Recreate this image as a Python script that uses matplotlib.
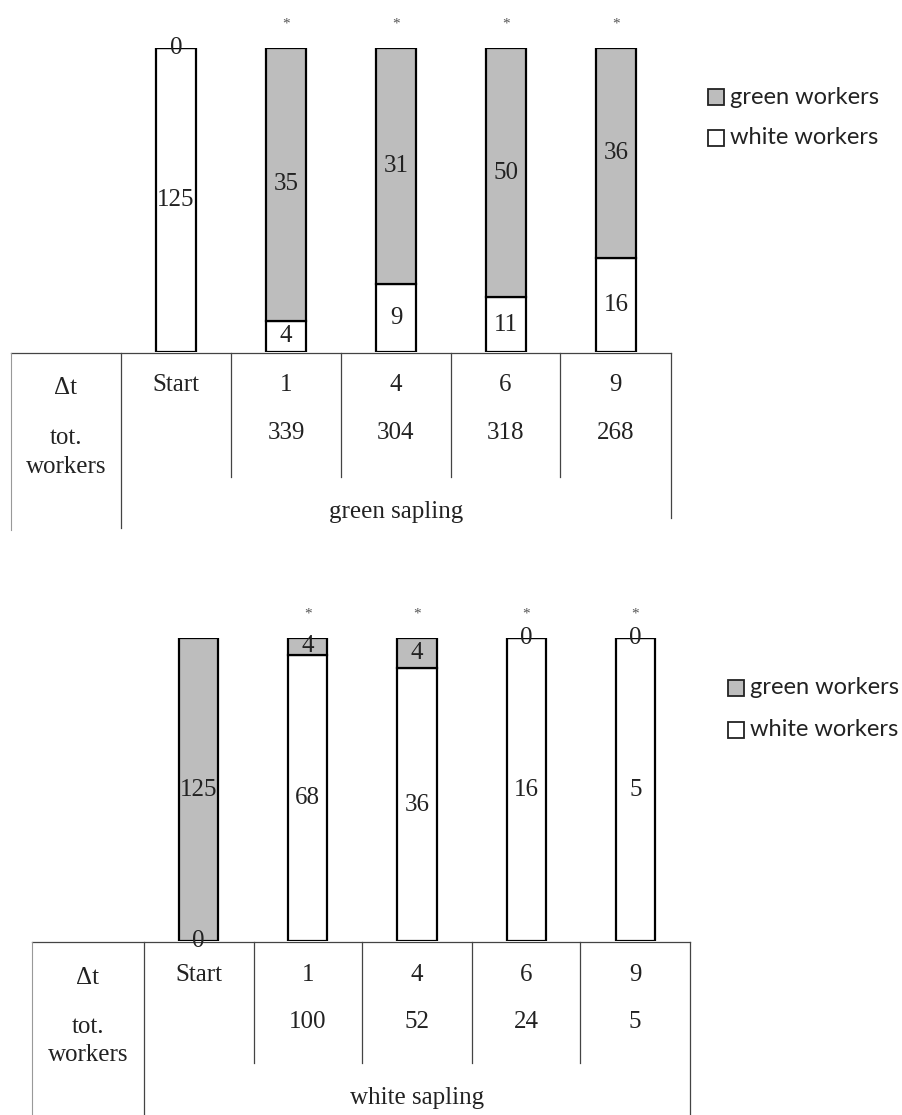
import matplotlib.pyplot as plt
import numpy as np

# data
timepoints = ['Start', '1', '4', '6', '9']
significant = [False, True, True, True, True]

green_sap_green = [0, 35, 31, 50, 36]
green_sap_white = [125, 4, 9, 11, 16]
green_sap_total = ['', '339', '304', '318', '268']

white_sap_green = [125, 4, 4, 0, 0]
white_sap_white = [0, 68, 36, 16, 5]
white_sap_total = ['', '100', '52', '24', '5']

GREY = '#bdbdbd'
SERIF = 'Liberation Serif'
SANS = 'Lato'
W, H = 903, 1115


def fig_rect(x0, y0, x1, y1):
    """pixel box (top-left origin) -> figure fraction rect"""
    return [x0 / W, 1 - y1 / H, (x1 - x0) / W, (y1 - y0) / H]


def draw_bars(ax, green, white):
    green = np.array(green, dtype=float)
    white = np.array(white, dtype=float)
    total = green + white
    wfrac = white / total
    gfrac = green / total
    x = np.arange(len(green))
    width = 0.36
    ax.bar(x, wfrac, width, color='white', edgecolor='black', linewidth=1.6)
    ax.bar(x, gfrac, width, bottom=wfrac, color=GREY, edgecolor='black', linewidth=1.6)
    for i in range(len(x)):
        ax.text(x[i], wfrac[i] / 2, f'{int(white[i])}', ha='center', va='center',
                fontsize=18, family=SERIF, color='#222222')
        ax.text(x[i], wfrac[i] + gfrac[i] / 2, f'{int(green[i])}', ha='center', va='center',
                fontsize=18, family=SERIF, color='#222222')
        if significant[i]:
            ax.text(x[i], 1.08, '*', ha='center', va='center', fontsize=11,
                    color='#555555', family=SERIF)
    ax.set_xlim(-0.5, len(x) - 0.5)
    ax.set_ylim(0, 1)
    ax.axis('off')


def draw_legend(ov, x, y_green, y_white, size):
    for yy, col, lab in [(y_green, GREY, 'green workers'), (y_white, 'white', 'white workers')]:
        ov.add_patch(plt.Rectangle((x, yy - size / 2), size, size, facecolor=col,
                                   edgecolor='#222222', linewidth=1.3))
        ov.text(x + size + 6, yy, lab, ha='left', va='center', fontsize=17,
                family=SANS, color='#222222')


def draw_table(ov, edges, top, inner_bottom, start_bottom, left_bottom, right_bottom,
               y_dt, y_tot, y_workers, y_name, totals, name):
    lc = '#444444'
    ov.plot([edges[0], edges[-1]], [top, top], color=lc, lw=0.9)
    ov.plot([edges[0], edges[0]], [top, left_bottom], color='#999999', lw=0.8)
    ov.plot([edges[1], edges[1]], [top, start_bottom], color=lc, lw=0.9)
    for e in edges[2:-1]:
        ov.plot([e, e], [top, inner_bottom], color=lc, lw=0.9)
    ov.plot([edges[-1], edges[-1]], [top, right_bottom], color=lc, lw=0.9)

    kw = dict(ha='center', va='center', fontsize=18, family=SERIF, color='#222222')
    ov.text((edges[0] + edges[1]) / 2, y_dt, 'Δt', **kw)
    ov.text((edges[0] + edges[1]) / 2, y_tot, 'tot.', **kw)
    ov.text((edges[0] + edges[1]) / 2, y_workers, 'workers', **kw)
    for i, t in enumerate(timepoints):
        cx = (edges[i + 1] + edges[i + 2]) / 2
        ov.text(cx, y_dt - 3, t, **kw)
        ov.text(cx, y_tot - 5, totals[i], **kw)
    ov.text((edges[1] + edges[-1]) / 2, y_name, name, **kw)


fig = plt.figure(figsize=(W / 100, H / 100), dpi=100)
fig.patch.set_facecolor('white')

# overlay in pixel coordinates for table and legend
ov = fig.add_axes([0, 0, 1, 1])
ov.set_xlim(0, W)
ov.set_ylim(H, 0)
ov.axis('off')

# top chart: green sapling
top_edges = [11, 121, 231, 341, 451, 560, 671]
ax1 = fig.add_axes(fig_rect(top_edges[1], 48, top_edges[-1], 352))
draw_bars(ax1, green_sap_green, green_sap_white)
draw_table(ov, top_edges, 353, 477, 528, 530, 518, 388, 438, 467, 512,
           green_sap_total, 'green sapling')
draw_legend(ov, 708, 97, 138, 16)

# bottom chart: white sapling
bot_edges = [32, 144, 254, 362, 472, 580, 690]
ax2 = fig.add_axes(fig_rect(bot_edges[1], 638, bot_edges[-1], 941))
draw_bars(ax2, white_sap_green, white_sap_white)
draw_table(ov, bot_edges, 942, 1063, 1115, 1115, 1115, 978, 1027, 1055, 1098,
           white_sap_total, 'white sapling')
draw_legend(ov, 728, 688, 730, 16)

plt.savefig('out.png', dpi=100)
